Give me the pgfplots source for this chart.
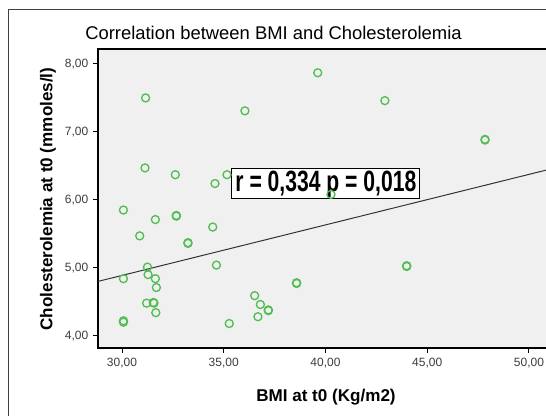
\documentclass[border=0pt]{standalone}
\usepackage{fontspec}
\setmainfont{Liberation Sans}
\usepackage{graphicx}
\usepackage{pgfplots}
\pgfplotsset{compat=1.18}
\definecolor{ptgreen}{RGB}{82,190,82}
\definecolor{bgray}{RGB}{240,240,240}
\definecolor{ticktxt}{RGB}{60,60,60}
\begin{document}
\begin{tikzpicture}
\begin{axis}[
  scale only axis,
  width=342.75pt, height=224.25pt,
  xmin=28.82, xmax=51.28, ymin=3.82, ymax=8.22,
  axis background/.style={fill=bgray},
  axis line style={line width=1.4pt, black},
  xtick={30,35,40,45,50},
  xticklabels={{30,00},{35,00},{40,00},{45,00},{50,00}},
  ytick={4,5,6,7,8},
  yticklabels={{4,00},{5,00},{6,00},{7,00},{8,00}},
  xtick pos=bottom, ytick pos=left,
  tick align=outside,
  major tick length=3.75pt,
  tick style={line width=0.7pt, black},
  tick label style={font=\fontsize{9}{9}\selectfont, text=ticktxt},
  /pgf/number format/assume math mode=true,
  clip=false,
]
\addplot[only marks, mark=o, mark size=3pt, mark options={line width=1pt, draw=ptgreen}] coordinates {
(31.16,7.50) (36.04,7.31) (39.62,7.87) (31.13,6.47) (32.62,6.37) (34.57,6.24) (35.16,6.37)
(30.07,5.85) (31.64,5.71) (32.67,5.77) (32.67,5.76) (30.87,5.47) (34.46,5.60) (33.24,5.37)
(33.24,5.36) (31.25,5.01) (34.64,5.04) (30.07,4.84) (31.28,4.90) (31.64,4.84) (31.69,4.71)
(38.58,4.78) (38.58,4.77) (31.21,4.48) (31.54,4.49) (31.57,4.48) (31.66,4.34) (36.52,4.59)
(36.80,4.46) (37.19,4.38) (37.19,4.37) (36.68,4.28) (30.07,4.22) (30.07,4.20) (35.27,4.18)
(42.92,7.46) (47.84,6.89) (47.84,6.88) (43.99,5.03) (43.99,5.02) (40.27,6.08)
};
\addplot[no marks, line width=0.75pt, color=black!80] coordinates {(28.82,4.80) (51.28,6.47)};
\node[draw=black, line width=0.6pt, fill=white, inner sep=0pt, minimum width=141pt, minimum height=22.5pt]
  at (axis cs:40.02,6.235) {\scalebox{0.72}[1]{\fontsize{22}{22}\selectfont\bfseries r = 0,334 p = 0,018}};
\end{axis}
% outer frame
\draw[line width=0.75pt, black!75] (-66.75pt,-60pt) -- (-66.75pt,253.5pt) -- (340pt,253.5pt);
% title
\node[font=\fontsize{13.8}{13.8}\selectfont] at (131.6pt,236.25pt) {Correlation between BMI and Cholesterolemia};
% axis labels
\node[font=\fontsize{12.8}{12.8}\selectfont\bfseries] at (171pt,-36.75pt) {BMI at t0 (Kg/m2)};
\node[font=\fontsize{12.8}{12.8}\selectfont\bfseries, rotate=90] at (-37.5pt,111.75pt) {Cholesterolemia at t0 (mmoles/l)};
\pgfresetboundingbox
\useasboundingbox (-73.5pt,-51pt) rectangle (336pt,261pt);
\end{tikzpicture}
\end{document}
